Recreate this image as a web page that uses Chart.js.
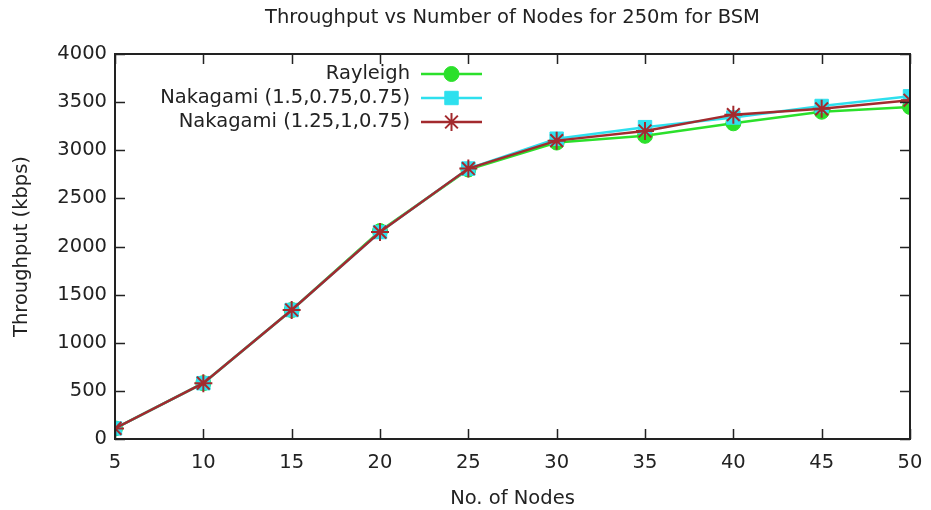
<!DOCTYPE html>
<html lang="en">
<head>
    <meta charset="UTF-8">
    <title>Throughput vs Number of Nodes</title>
    <script src="https://cdn.jsdelivr.net/npm/chart.js"></script>
    <style>
        html, body { margin: 0; padding: 0; background: #fff; }
        #wrap { width: 931px; height: 510px; }
    </style>
</head>
<body>
    <div id="wrap"><canvas id="chart" width="931" height="510"></canvas></div>
    <script>
        // values
        const nodes = [5, 10, 15, 20, 25, 30, 35, 40, 45, 50];
        const rayleigh = [110, 580, 1340, 2160, 2800, 3080, 3150, 3280, 3400, 3450];
        const nakagamiA = [110, 580, 1340, 2150, 2810, 3120, 3240, 3340, 3460, 3560];
        const nakagamiB = [110, 580, 1340, 2150, 2810, 3100, 3200, 3370, 3430, 3520];
        const chartTitle = 'Throughput vs Number of Nodes for 250m for BSM';

        const FONT = "'DejaVu Sans', sans-serif";
        const FS = 19.5;
        const TEXT = '#222';

        function pts(vals) {
            return nodes.map((n, i) => ({ x: n, y: vals[i] }));
        }

        // title centred over the plot area, like gnuplot does
        const titlePlugin = {
            id: 'plotTitle',
            afterDraw(chart) {
                const { ctx, chartArea: a } = chart;
                ctx.save();
                ctx.font = FS + 'px ' + FONT;
                ctx.fillStyle = TEXT;
                ctx.textAlign = 'center';
                ctx.textBaseline = 'middle';
                ctx.fillText(chartTitle, (a.left + a.right) / 2, 18);
                ctx.restore();
            }
        };

        // frame with inward ticks on all four sides
        const framePlugin = {
            id: 'frame',
            afterDatasetsDraw(chart) {
                const { ctx, chartArea: a, scales } = chart;
                const len = 10;
                ctx.save();
                ctx.strokeStyle = '#222';
                ctx.lineWidth = 1.5;
                ctx.beginPath();
                scales.x.ticks.forEach(t => {
                    const px = Math.round(scales.x.getPixelForValue(t.value)) + 0.5;
                    ctx.moveTo(px, a.bottom); ctx.lineTo(px, a.bottom - len);
                    ctx.moveTo(px, a.top); ctx.lineTo(px, a.top + len);
                });
                scales.y.ticks.forEach(t => {
                    const py = Math.round(scales.y.getPixelForValue(t.value)) + 0.5;
                    ctx.moveTo(a.left, py); ctx.lineTo(a.left + len, py);
                    ctx.moveTo(a.right, py); ctx.lineTo(a.right - len, py);
                });
                ctx.stroke();
                ctx.lineWidth = 2;
                ctx.strokeRect(a.left, a.top, a.right - a.left, a.bottom - a.top);
                ctx.restore();
            }
        };

        // key in the top-left corner: text right aligned, sample to its right
        const keyPlugin = {
            id: 'key',
            afterDraw(chart) {
                const { ctx } = chart;
                const textRight = 410, lineL = 421, lineR = 482, top = 74, step = 24;
                ctx.save();
                chart.data.datasets.forEach((ds, i) => {
                    const y = top + i * step;
                    ctx.font = FS + 'px ' + FONT;
                    ctx.fillStyle = TEXT;
                    ctx.textAlign = 'right';
                    ctx.textBaseline = 'middle';
                    ctx.fillText(ds.label, textRight, y);
                    ctx.strokeStyle = ds.borderColor;
                    ctx.lineWidth = ds.borderWidth;
                    ctx.beginPath();
                    ctx.moveTo(lineL, y); ctx.lineTo(lineR, y);
                    ctx.stroke();
                    ctx.fillStyle = ds.pointBackgroundColor;
                    ctx.strokeStyle = ds.pointBorderColor;
                    ctx.lineWidth = ds.pointBorderWidth;
                    Chart.helpers.drawPoint(ctx, {
                        pointStyle: ds.pointStyle,
                        radius: ds.pointRadius,
                        rotation: 0,
                        borderWidth: ds.pointBorderWidth
                    }, (lineL + lineR) / 2, y);
                });
                ctx.restore();
            }
        };

        new Chart(document.getElementById('chart'), {
            type: 'line',
            data: {
                datasets: [
                    {
                        label: 'Rayleigh',
                        data: pts(rayleigh),
                        borderColor: '#2be02b',
                        borderWidth: 2.5,
                        pointStyle: 'circle',
                        pointRadius: 7.5,
                        pointBackgroundColor: '#2be02b',
                        pointBorderColor: '#2be02b',
                        pointBorderWidth: 1,
                        order: 3
                    },
                    {
                        label: 'Nakagami (1.5,0.75,0.75)',
                        data: pts(nakagamiA),
                        borderColor: '#2ee0ee',
                        borderWidth: 2.5,
                        pointStyle: 'rect',
                        pointRadius: 9.5,
                        pointBackgroundColor: '#2ee0ee',
                        pointBorderColor: '#2ee0ee',
                        pointBorderWidth: 1,
                        order: 2
                    },
                    {
                        label: 'Nakagami (1.25,1,0.75)',
                        data: pts(nakagamiB),
                        borderColor: '#a32a2e',
                        borderWidth: 2.5,
                        pointStyle: 'star',
                        pointRadius: 9,
                        pointBackgroundColor: '#a32a2e',
                        pointBorderColor: '#a32a2e',
                        pointBorderWidth: 2,
                        order: 1
                    }
                ]
            },
            options: {
                responsive: false,
                animation: false,
                layout: { padding: { left: 0, right: 21, top: 54, bottom: 0 } },
                plugins: {
                    legend: { display: false },
                    tooltip: { enabled: false },
                    title: { display: false }
                },
                scales: {
                    x: {
                        type: 'linear',
                        min: 5,
                        max: 50,
                        afterFit(s) {
                            s.height = 71;
                            s.paddingLeft = 0;
                            s.paddingRight = 0;
                        },
                        ticks: {
                            stepSize: 5, color: TEXT, padding: 12,
                            font: { family: FONT, size: FS },
                            callback: v => String(v)
                        },
                        grid: { display: false, drawTicks: false },
                        border: { display: false },
                        title: {
                            display: true,
                            text: 'No. of Nodes',
                            color: TEXT,
                            font: { family: FONT, size: FS },
                            padding: { top: 0, bottom: -1 }
                        }
                    },
                    y: {
                        min: 0,
                        max: 4000,
                        afterFit(s) {
                            s.width = 115;
                            s.paddingTop = 0;
                            s.paddingBottom = 0;
                        },
                        ticks: {
                            stepSize: 500, color: TEXT, padding: 8,
                            font: { family: FONT, size: FS },
                            callback: v => String(v)
                        },
                        grid: { display: false, drawTicks: false },
                        border: { display: false },
                        title: {
                            display: true,
                            text: 'Throughput (kbps)',
                            color: TEXT,
                            font: { family: FONT, size: FS },
                            padding: { top: 10, bottom: 0 }
                        }
                    }
                }
            },
            plugins: [framePlugin, keyPlugin, titlePlugin]
        });
    </script>
</body>
</html>
